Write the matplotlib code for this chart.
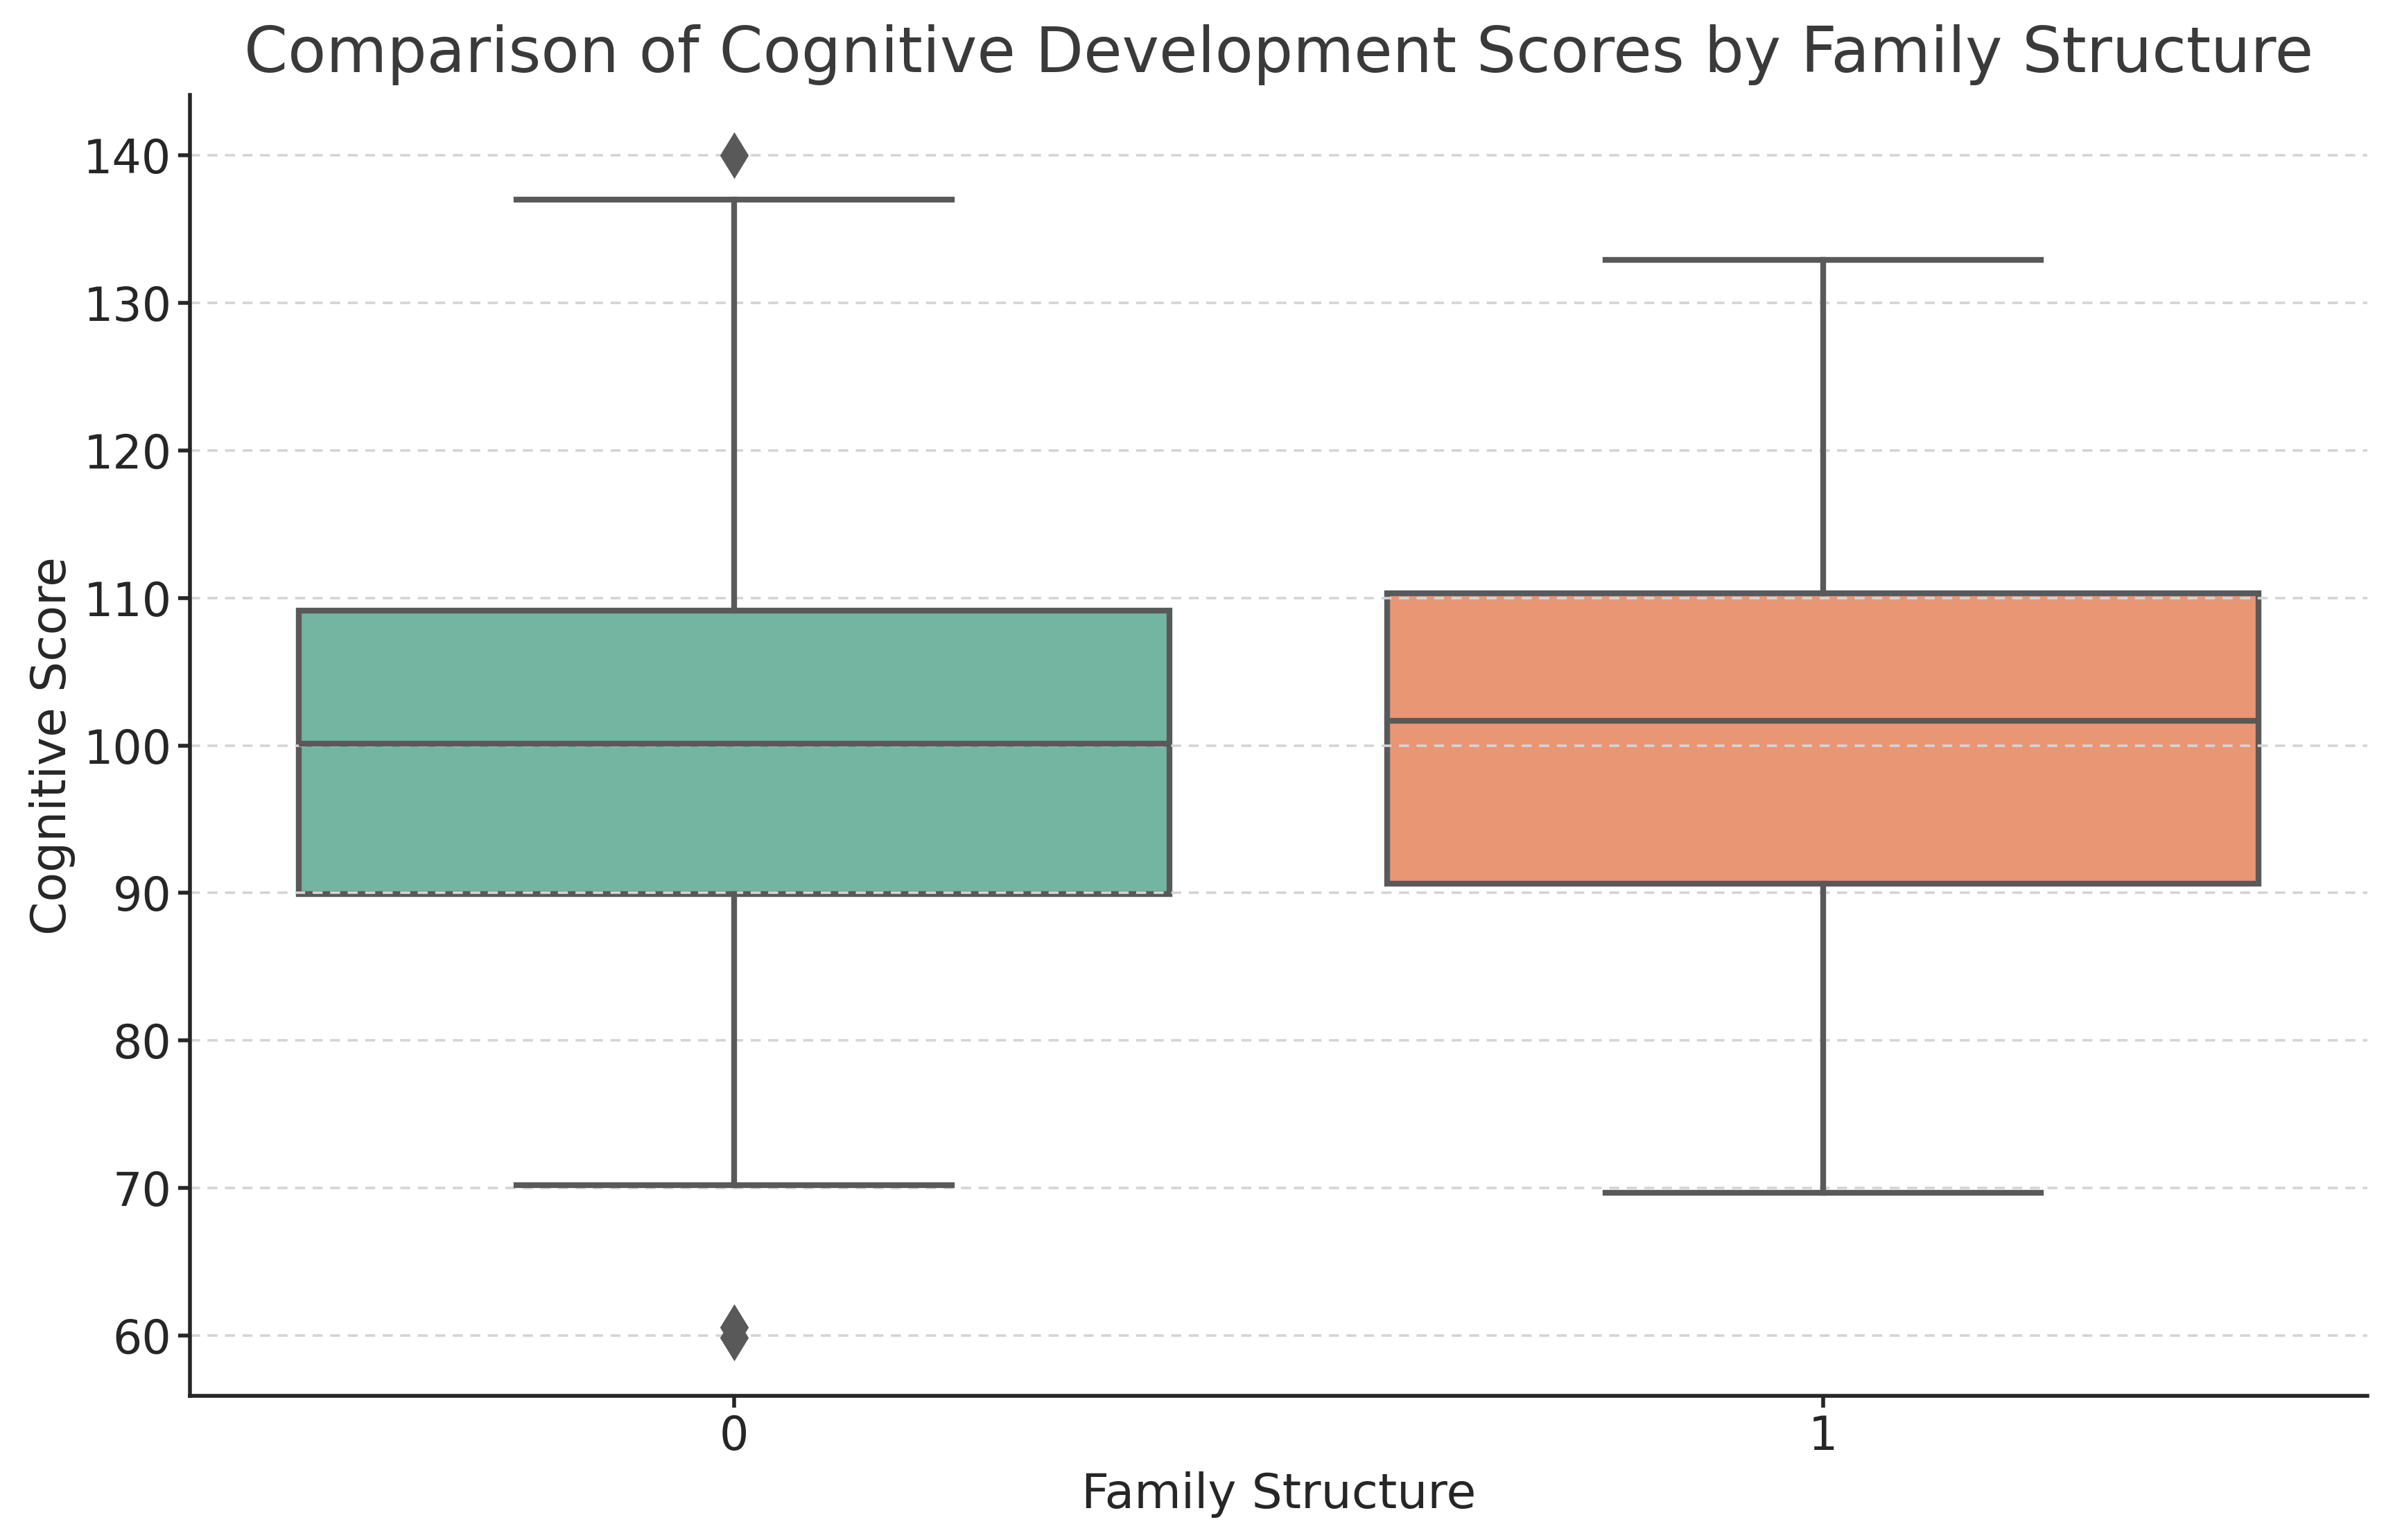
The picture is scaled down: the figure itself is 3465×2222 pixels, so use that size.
import matplotlib
matplotlib.use("Agg")
import matplotlib.pyplot as plt
import seaborn as sns

plt.rcParams['font.family'] = ['DejaVu Sans']

categories = ["0", "1"]
q1 = [89.9, 90.65]
median = [100.1, 101.65]
q3 = [109.15, 110.3]
whisker_low = [70.2, 69.65]
whisker_high = [137.0, 132.9]
outliers = [[140.0, 60.55, 59.85], []]
base_colors = ["#66c2a5", "#fc8d62"]

stats = []
for i, c in enumerate(categories):
    stats.append(dict(label=c, q1=q1[i], med=median[i], q3=q3[i],
                      whislo=whisker_low[i], whishi=whisker_high[i],
                      fliers=outliers[i]))

fig = plt.figure(figsize=(17.33, 11.11), dpi=200)
ax = fig.add_axes([0.079, 0.0936, 0.9063, 0.8447])

edge = "#595959"
lw = 3.0
bp = ax.bxp(stats, positions=[0, 1], widths=0.8, patch_artist=True,
            showfliers=True,
            boxprops=dict(edgecolor=edge, linewidth=lw),
            medianprops=dict(color=edge, linewidth=lw),
            whiskerprops=dict(color=edge, linewidth=lw),
            capprops=dict(color=edge, linewidth=lw),
            flierprops=dict(marker="d", markerfacecolor=edge, markeredgecolor=edge,
                            markersize=16, markeredgewidth=1))
for patch, col in zip(bp["boxes"], base_colors):
    patch.set_facecolor(sns.desaturate(col, 0.75))
    patch.set_zorder(1)
for cap in bp["caps"]:
    x = cap.get_xdata()
    mid = (x[0] + x[1]) / 2
    cap.set_xdata([mid - 0.2, mid + 0.2])

ax.set_xlim(-0.5, 1.5)
ax.set_ylim(55.9, 144.1)
ax.set_yticks([60, 70, 80, 90, 100, 110, 120, 130, 140])
ax.set_xticks([0, 1])
ax.set_xticklabels(categories)

ax.yaxis.grid(True, linestyle=(0, (4, 3)), color="#d4d4d4", linewidth=1.3)
ax.set_axisbelow('line')
for s in ["top", "right"]:
    ax.spines[s].set_visible(False)
for s in ["left", "bottom"]:
    ax.spines[s].set_color("#262626")
    ax.spines[s].set_linewidth(2.0)
ax.tick_params(axis="both", labelsize=24, colors="#262626", length=6, width=2.0,
               labelcolor="#262626")

ax.set_title("Comparison of Cognitive Development Scores by Family Structure",
             fontsize=32.5, color="#3a3a3a", pad=12)
ax.set_xlabel("Family Structure", fontsize=25, color="#262626", labelpad=6)
ax.set_ylabel("Cognitive Score", fontsize=25, color="#262626", labelpad=4)

fig.savefig("out.png", dpi=200)
